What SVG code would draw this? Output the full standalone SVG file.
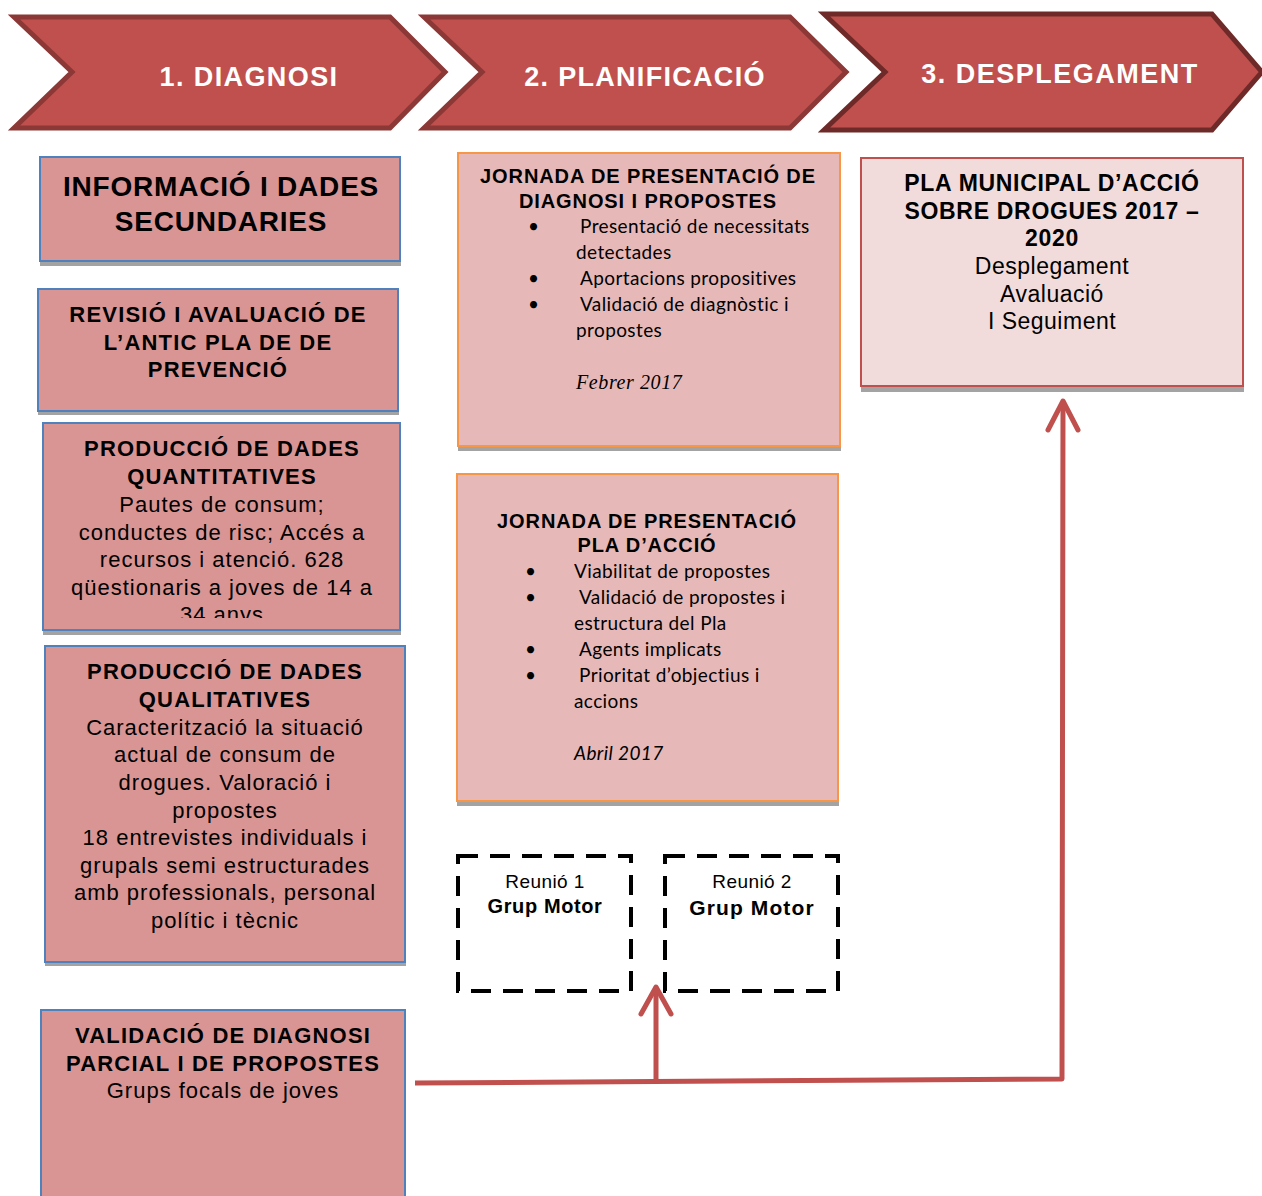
<svg xmlns="http://www.w3.org/2000/svg" width="1262" height="1196" viewBox="0 0 1262 1196">
<style>
.chev{fill:#C0504D;stroke:#8C3836;stroke-width:5;stroke-linejoin:miter}
.chevt{font-family:"Liberation Sans",Arial,sans-serif;font-weight:bold;font-size:27px;fill:#FFFFFF;text-anchor:middle;letter-spacing:1.4px}
.shadow{fill:#A3A3A3}
.lb{fill:#D99594;stroke:#4F81BD;stroke-width:2}
.mb{fill:#E6B9B8;stroke:#F79646;stroke-width:2}
.rb{fill:#F2DCDB;stroke:#C0504D;stroke-width:2}
.a{font-family:"Liberation Sans",Arial,sans-serif;fill:#000;text-anchor:middle;letter-spacing:1px}
.b{font-weight:bold;letter-spacing:1.2px}
.m{letter-spacing:0.85px}
.c{font-family:Lato,"Open Sans",sans-serif;font-size:19px;fill:#000;letter-spacing:0.4px}
.dash{fill:none;stroke:#000;stroke-width:4;stroke-dasharray:20 12}
.conn{fill:none;stroke:#C0504D;stroke-width:5;stroke-linecap:round;stroke-linejoin:round}
</style>
<rect width="1262" height="1196" fill="#FFFFFF"/>
<g id="phase1">
<polygon class="chev" points="14,17 390,17 445,72 390,128 14,128 72,72"/>
<text class="chevt" x="249" y="86">1. DIAGNOSI</text>
</g>
<g id="phase2">
<polygon class="chev" points="424,17 790,17 846,72 790,128 424,128 482,72"/>
<text class="chevt" x="645" y="86" style="letter-spacing:1.3px">2. PLANIFICACIÓ</text>
</g>
<g id="phase3">
<polygon class="chev" style="stroke:#6E2A28" points="824,14 1212,14 1262,72 1212,130 824,130 885,72"/>
<text class="chevt" x="1060" y="83" style="letter-spacing:1.5px">3. DESPLEGAMENT</text>
</g>
<g id="informacio">
<rect class="shadow" x="40" y="161" width="361" height="105"/>
<rect class="lb" x="40" y="157" width="360" height="104"/>
<text class="a b" font-size="28" x="221" y="196" style="letter-spacing:0.8px">INFORMACIÓ I DADES</text>
<text class="a b" font-size="28" x="221" y="231" style="letter-spacing:0.8px">SECUNDARIES</text>
</g>
<g id="revisio">
<rect class="shadow" x="38" y="293" width="361" height="122"/>
<rect class="lb" x="38" y="289" width="360" height="122"/>
<text class="a b" font-size="22" x="218" y="322">REVISIÓ I AVALUACIÓ DE</text>
<text class="a b" font-size="22" x="218" y="350">L’ANTIC PLA DE DE</text>
<text class="a b" font-size="22" x="218" y="377">PREVENCIÓ</text>
</g>
<g id="quantitatives">
<rect class="shadow" x="43" y="427" width="358" height="208"/>
<rect class="lb" x="43" y="423" width="357" height="207"/>
<clipPath id="cq"><rect x="44" y="424" width="355" height="194"/></clipPath>
<g clip-path="url(#cq)">
<text class="a b" font-size="22" x="222" y="456">PRODUCCIÓ DE DADES</text>
<text class="a b" font-size="22" x="222" y="484">QUANTITATIVES</text>
<text class="a" font-size="22" x="222" y="512">Pautes de consum;</text>
<text class="a" font-size="22" x="222" y="540">conductes de risc; Accés a</text>
<text class="a" font-size="22" x="222" y="567">recursos i atenció. 628</text>
<text class="a" font-size="22" x="222" y="595">qüestionaris a joves de 14 a</text>
<text class="a" font-size="22" x="222" y="622">34 anys</text>
</g>
</g>
<g id="qualitatives">
<rect class="shadow" x="45" y="650" width="361" height="316"/>
<rect class="lb" x="45" y="646" width="360" height="316"/>
<text class="a b" font-size="22" x="225" y="679">PRODUCCIÓ DE DADES</text>
<text class="a b" font-size="22" x="225" y="707">QUALITATIVES</text>
<text class="a" font-size="22" x="225" y="735">Caracterització la situació</text>
<text class="a" font-size="22" x="225" y="762">actual de consum de</text>
<text class="a" font-size="22" x="225" y="790">drogues. Valoració i</text>
<text class="a" font-size="22" x="225" y="818">propostes</text>
<text class="a" font-size="22" x="225" y="845">18 entrevistes individuals i</text>
<text class="a" font-size="22" x="225" y="873">grupals semi estructurades</text>
<text class="a" font-size="22" x="225" y="900">amb professionals, personal</text>
<text class="a" font-size="22" x="225" y="928">polític i tècnic</text>
</g>
<g id="validacio">
<rect class="lb" x="41" y="1010" width="364" height="200"/>
<text class="a b" font-size="22" x="223" y="1043">VALIDACIÓ DE DIAGNOSI</text>
<text class="a b" font-size="22" x="223" y="1071">PARCIAL I DE PROPOSTES</text>
<text class="a" font-size="22" x="223" y="1098">Grups focals de joves</text>
</g>
<g id="jornada1">
<rect class="shadow" x="458" y="153" width="383" height="298"/>
<rect class="mb" x="458" y="153" width="382" height="293"/>
<text class="a b" font-size="20" x="648" y="183" style="letter-spacing:0.9px">JORNADA DE PRESENTACIÓ DE</text>
<text class="a b" font-size="20" x="648" y="208" style="letter-spacing:0.9px">DIAGNOSI I PROPOSTES</text>
<text class="c" x="528" y="233">•</text>
<text class="c" x="580" y="233">Presentació de necessitats</text>
<text class="c" x="576" y="259">detectades</text>
<text class="c" x="528" y="285">•</text>
<text class="c" x="580" y="285">Aportacions propositives</text>
<text class="c" x="528" y="311">•</text>
<text class="c" x="580" y="311">Validació de diagnòstic i</text>
<text class="c" x="576" y="337">propostes</text>
<text x="576" y="389" font-family="'Liberation Serif','Times New Roman',serif" font-style="italic" font-size="20" letter-spacing="0.6" fill="#000">Febrer 2017</text>
</g>
<g id="jornada2">
<rect class="shadow" x="457" y="474" width="382" height="332"/>
<rect class="mb" x="457" y="474" width="381" height="327"/>
<text class="a b" font-size="20" x="647" y="528" style="letter-spacing:0.9px">JORNADA DE PRESENTACIÓ</text>
<text class="a b" font-size="20" x="647" y="552" style="letter-spacing:0.9px">PLA D’ACCIÓ</text>
<text class="c" x="525" y="578">•</text>
<text class="c" x="574" y="578">Viabilitat de propostes</text>
<text class="c" x="525" y="604">•</text>
<text class="c" x="579" y="604">Validació de propostes i</text>
<text class="c" x="574" y="630">estructura del Pla</text>
<text class="c" x="525" y="656">•</text>
<text class="c" x="579" y="656">Agents implicats</text>
<text class="c" x="525" y="682">•</text>
<text class="c" x="579" y="682">Prioritat d’objectius i</text>
<text class="c" x="574" y="708">accions</text>
<text class="c" x="574" y="760" font-style="italic">Abril 2017</text>
</g>
<g id="pla-municipal">
<rect class="shadow" x="861" y="162" width="383" height="230"/>
<rect class="rb" x="861" y="158" width="382" height="228"/>
<text class="a b" font-size="23" x="1052" y="191" style="letter-spacing:0.7px">PLA MUNICIPAL D’ACCIÓ</text>
<text class="a b" font-size="23" x="1052" y="219" style="letter-spacing:0.7px">SOBRE DROGUES 2017 –</text>
<text class="a b" font-size="23" x="1052" y="246" style="letter-spacing:0.7px">2020</text>
<text class="a" font-size="23" x="1052" y="274" style="letter-spacing:0.5px">Desplegament</text>
<text class="a" font-size="23" x="1052" y="302" style="letter-spacing:0.5px">Avaluació</text>
<text class="a" font-size="23" x="1052" y="329" style="letter-spacing:0.5px">I Seguiment</text>
</g>
<g id="reunio1">
<rect class="dash" x="458" y="856" width="173" height="135"/>
<text class="a" font-size="19" x="545" y="888" style="letter-spacing:0.4px">Reunió 1</text>
<text class="a b" font-size="20" x="545" y="913" style="letter-spacing:0.6px">Grup Motor</text>
</g>
<g id="reunio2">
<rect class="dash" x="665" y="856" width="173" height="135"/>
<text class="a" font-size="19" x="752" y="888" style="letter-spacing:0.4px">Reunió 2</text>
<text class="a b" font-size="21" x="752" y="915" style="letter-spacing:1.1px">Grup Motor</text>
</g>
<g id="connectors">
<polyline class="conn" style="stroke-linecap:butt" points="415,1083 1062,1079 1063,402"/>
<line class="conn" x1="656" y1="1081" x2="656" y2="988"/>
<polyline class="conn" points="641,1014 656,987 671,1014"/>
<polyline class="conn" points="1048,430 1063,401 1078,430"/>
</g>
</svg>
